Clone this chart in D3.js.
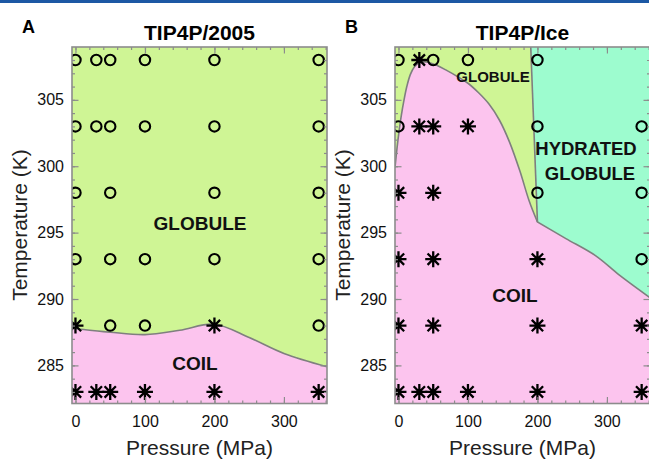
<!DOCTYPE html>
<html>
<head>
<meta charset="utf-8">
<script src="https://cdn.jsdelivr.net/npm/d3@7/dist/d3.min.js"></script>
<style>
  html, body { margin: 0; padding: 0; background: #fff; }
  svg { display: block; }
  text { font-family: "Liberation Sans", Arial, Helvetica, sans-serif; }
</style>
</head>
<body>
<svg id="chart" width="649" height="463"></svg>
<script>
// ---------------- data ----------------
const xTicks = [0, 100, 200, 300];
const yTicks = [285, 290, 295, 300, 305];
const xMinorTicks = d3.range(0, 361, 20);
const yMinorTicks = d3.range(283, 309, 1);
const panelTitles = ["TIP4P/2005", "TIP4P/Ice"];
const panelLetters = ["A", "B"];

// Panel A (TIP4P/2005) simulation states [pressure MPa, temperature K]
const globuleA = [
  [0,308],[30,308],[50,308],[100,308],[200,308],[350,308],
  [0,303],[30,303],[50,303],[100,303],[200,303],[350,303],
  [0,298],[50,298],[200,298],[350,298],
  [0,293],[50,293],[100,293],[200,293],[350,293],
  [50,288],[100,288],[350,288]
];
const coilA = [
  [0,288],[200,288],
  [0,283],[30,283],[50,283],[100,283],[200,283],[350,283]
];
// coil / globule boundary, panel A
const boundaryA = [[-5,287.85],[0,287.78],[50,287.5],[100,287.32],[150,287.65],[200,288.1],[250,287.1],[300,285.9],[362,284.9]];

// Panel B (TIP4P/Ice)
const globuleB = [
  [0,308],[50,308],[100,308],[200,308],
  [0,303],[200,303],[350,303],
  [200,298],[350,298],
  [350,293]
];
const coilB = [
  [30,308],
  [30,303],[50,303],[100,303],
  [0,298],[50,298],
  [0,293],[50,293],[200,293],
  [0,288],[50,288],[200,288],[350,288],
  [0,283],[30,283],[50,283],[100,283],[200,283],[350,283]
];
// coil upper boundary, panel B (left part up to the triple point, then right part)
const coilBoundaryB1 = [[-5,299.9],[-2,301.4],[1,302.7],[4,303.8],[8,305.0],[12,306.0],[17,306.9],[23,307.5],[30,307.8],[40,307.85],[55,307.6],[70,307.2],[85,306.75],[100,306.25],[115,305.55],[130,304.7],[145,303.5],[160,301.8],[175,299.6],[188,297.4],[200,295.8]];
const coilBoundaryB2 = [[200,295.8],[241,294.55],[284,293.25],[318,291.8],[362,290.1]];
// globule / hydrated globule boundary, panel B
const hydratedBoundaryB = [[190,309.5],[200,295.8]];

// ---------------- layout ----------------
const svg = d3.select("#chart");
const W = 649, H = 463;
const colGreen = "#cff595", colPink = "#fcc4ee", colMint = "#9dfccf";
const colLine = "#7f7f7f", colFrame = "#8c8c8c";

svg.append("rect").attr("x", 0).attr("y", 0).attr("width", W).attr("height", 3).attr("fill", "#1c58a4");

const plotTop = 47, plotBottom = 403.5, plotW = 255;
const panelLeft = [72, 395];
const xDomain = [-5, 362], yDomain = [282.13, 308.98];

function asteriskPath(r) {
  const d = r * Math.SQRT1_2;
  return `M${-r},0L${r},0M0,${-r}L0,${r}M${-d},${-d}L${d},${d}M${-d},${d}L${d},${-d}`;
}

function drawPanel(i) {
  const L = panelLeft[i];
  const x = d3.scaleLinear().domain(xDomain).range([L, L + plotW]);
  const y = d3.scaleLinear().domain(yDomain).range([plotBottom, plotTop]);
  const g = svg.append("g");
  const clipId = "clip" + i;
  svg.append("clipPath").attr("id", clipId).append("rect")
    .attr("x", L).attr("y", plotTop).attr("width", plotW).attr("height", plotBottom - plotTop);
  const plot = g.append("g").attr("clip-path", `url(#${clipId})`);
  const line = d3.line().x(d => x(d[0])).y(d => y(d[1])).curve(d3.curveCatmullRom.alpha(0.5));
  const straight = d3.line().x(d => x(d[0])).y(d => y(d[1]));
  const yb = y(281), yt = y(310);

  plot.append("rect").attr("x", L).attr("y", plotTop).attr("width", plotW).attr("height", plotBottom - plotTop).attr("fill", colGreen);

  if (i === 0) {
    const dPink = line(boundaryA) + `L${x(xDomain[1]+5)},${yb}L${x(xDomain[0]-5)},${yb}Z`;
    plot.append("path").attr("d", dPink).attr("fill", colPink);
    plot.append("path").attr("d", line(boundaryA)).attr("fill", "none").attr("stroke", colLine).attr("stroke-width", 1.6);
  } else {
    const seg1 = line(coilBoundaryB1);
    const seg2 = line(coilBoundaryB2).replace(/^M/, "L");
    const dPink = seg1 + seg2 + `L${x(xDomain[1]+5)},${yb}L${x(xDomain[0]-5)},${yb}Z`;
    plot.append("path").attr("d", dPink).attr("fill", colPink);
    const dMint = straight(hydratedBoundaryB) + seg2 + `L${x(xDomain[1]+5)},${yt}Z`;
    plot.append("path").attr("d", dMint).attr("fill", colMint);
    plot.append("path").attr("d", seg1 + seg2).attr("fill", "none").attr("stroke", colLine).attr("stroke-width", 1.6);
    plot.append("path").attr("d", straight(hydratedBoundaryB)).attr("fill", "none").attr("stroke", colLine).attr("stroke-width", 1.6);
  }

  const glob = i === 0 ? globuleA : globuleB;
  const coil = i === 0 ? coilA : coilB;
  plot.selectAll("circle.m").data(glob).join("circle")
    .attr("cx", d => x(d[0])).attr("cy", d => y(d[1])).attr("r", 5.2)
    .attr("fill", "none").attr("stroke", "#000").attr("stroke-width", 2.1);
  plot.selectAll("path.s").data(coil).join("path")
    .attr("transform", d => `translate(${x(d[0])},${y(d[1])})`)
    .attr("d", asteriskPath(8)).attr("fill", "none").attr("stroke", "#000").attr("stroke-width", 2.3);

  // axes (inward ticks on all sides)
  const styleAxis = sel => {
    sel.select(".domain").remove();
    sel.selectAll(".tick line").attr("stroke", colFrame).attr("stroke-width", 1.2);
    sel.selectAll(".tick text").attr("fill", "#111").style("font-size", "16px")
      .style("font-family", '"Liberation Sans", Arial, sans-serif');
  };
  g.append("g").attr("transform", `translate(0,${plotBottom})`)
    .call(d3.axisBottom(x).tickValues(xMinorTicks).tickSize(-3).tickFormat("")).call(styleAxis);
  g.append("g").attr("transform", `translate(0,${plotBottom})`)
    .call(d3.axisBottom(x).tickValues(xTicks).tickSize(-6.5).tickPadding(12)).call(styleAxis);
  g.append("g").attr("transform", `translate(0,${plotTop})`)
    .call(d3.axisTop(x).tickValues(xMinorTicks).tickSize(-3).tickFormat("")).call(styleAxis);
  g.append("g").attr("transform", `translate(0,${plotTop})`)
    .call(d3.axisTop(x).tickValues(xTicks).tickSize(-6.5).tickFormat("")).call(styleAxis);
  g.append("g").attr("transform", `translate(${L},0)`)
    .call(d3.axisLeft(y).tickValues(yMinorTicks).tickSize(-3).tickFormat("")).call(styleAxis);
  g.append("g").attr("transform", `translate(${L},0)`)
    .call(d3.axisLeft(y).tickValues(yTicks).tickSize(-6.5).tickPadding(8)).call(styleAxis);
  g.append("g").attr("transform", `translate(${L + plotW},0)`)
    .call(d3.axisRight(y).tickValues(yMinorTicks).tickSize(-3).tickFormat("")).call(styleAxis);
  g.append("g").attr("transform", `translate(${L + plotW},0)`)
    .call(d3.axisRight(y).tickValues(yTicks).tickSize(-6.5).tickFormat("")).call(styleAxis);

  g.append("rect").attr("x", L).attr("y", plotTop).attr("width", plotW).attr("height", plotBottom - plotTop)
    .attr("fill", "none").attr("stroke", colFrame).attr("stroke-width", 1.6);

  // labels
  const cx = L + plotW / 2;
  g.append("text").attr("x", cx).attr("y", 40).attr("text-anchor", "middle")
    .style("font-size", "21px").style("font-weight", "bold").text(panelTitles[i]);
  g.append("text").attr("x", L - 50).attr("y", 33)
    .style("font-size", "18px").style("font-weight", "bold").text(panelLetters[i]);
  g.append("text").attr("x", cx).attr("y", 455).attr("text-anchor", "middle")
    .style("font-size", "21px").attr("fill", "#222").text("Pressure (MPa)");
  g.append("text").attr("transform", `translate(${L - 45},225) rotate(-90)`).attr("text-anchor", "middle")
    .style("font-size", "21px").attr("fill", "#222").text("Temperature (K)");

  const reg = (tx, ty, size, s) => g.append("text").attr("x", tx).attr("y", ty).attr("text-anchor", "middle")
    .style("font-size", size + "px").style("font-weight", "bold").attr("fill", "#111").text(s);
  if (i === 0) {
    reg(200, 230, 19, "GLOBULE");
    reg(195, 370, 19, "COIL");
  } else {
    reg(493, 82, 15, "GLOBULE");
    reg(586, 155, 18.5, "HYDRATED");
    reg(590, 180, 18.5, "GLOBULE");
    reg(515, 302, 19, "COIL");
  }
}
drawPanel(0);
drawPanel(1);
</script>
</body>
</html>
